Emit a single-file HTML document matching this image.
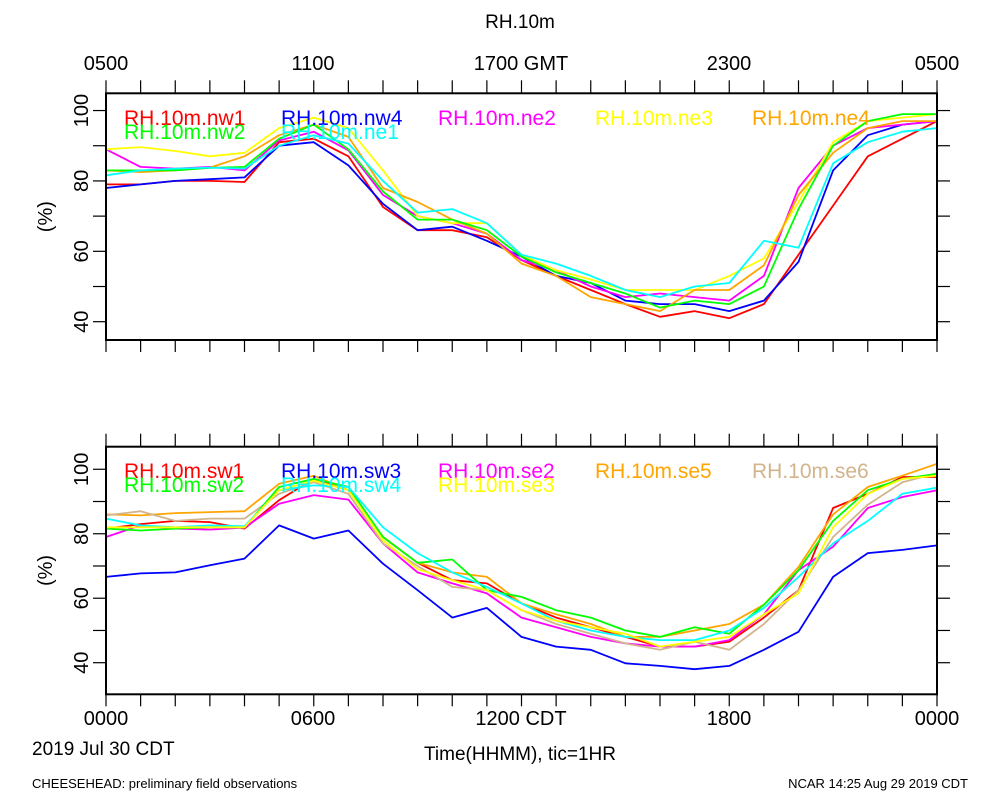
<!DOCTYPE html>
<html><head><meta charset="utf-8"><style>
body{margin:0;background:#fff;}
svg{display:block;font-family:"Liberation Sans",sans-serif;}
</style></head><body>
<svg id="chart" width="1000" height="800" viewBox="0 0 1000 800" xmlns="http://www.w3.org/2000/svg">
<text x="520" y="28" font-size="19" text-anchor="middle">RH.10m</text>
<g font-size="20" text-anchor="middle">
<text x="106" y="70">0500</text><text x="313" y="70">1100</text><text x="521" y="70">1700 GMT</text><text x="729" y="70">2300</text><text x="937" y="70">0500</text>
</g>
<g font-size="20" text-anchor="middle">
<text x="106" y="725">0000</text><text x="313" y="725">0600</text><text x="521" y="725">1200 CDT</text><text x="729" y="725">1800</text><text x="937" y="725">0000</text>
</g>
<text x="32" y="755" font-size="19">2019 Jul 30 CDT</text>
<text x="520" y="760" font-size="19" text-anchor="middle">Time(HHMM), tic=1HR</text>
<text x="32" y="788" font-size="13">CHEESEHEAD: preliminary field observations</text>
<text x="968" y="788" font-size="13" text-anchor="end">NCAR 14:25 Aug 29 2019 CDT</text>
<g id="plots"></g>
</svg>
<script>
const hours=[0,1,2,3,4,5,6,7,8,9,10,11,12,13,14,15,16,17,18,19,20,21,22,23,24];
const yTicks=[40,60,80,100];
const yMinor=[50,70,90];
const topNames=['RH.10m.nw1','RH.10m.nw4','RH.10m.ne2','RH.10m.ne3','RH.10m.ne4','RH.10m.nw2','RH.10m.ne1'];
const topColors=['#ff0000','#0000ff','#ff00ff','#ffff00','#ffa500','#00ff00','#00ffff'];
const nw1=[79,79,80,80,79.7,91,92,87,72.6,66,66,64,57.5,53,49,45,41.4,43,41,45,59,73,87,92,97];
const nw4=[78,79,80,80.5,81,90,91,84.4,73.5,66,67,63,58.5,53,51,46,45,45,43,46,57,83,93,96,97];
const ne2=[89,84,83.5,84,83,91.5,94,88.7,76,70,68,65,57.5,54.6,50,47,48,47,46,53,78,90,95,96,97];
const ne3=[89,89.6,88.5,87,88,95,98,95,83,70,68,68,59,54.6,52,49,49,49,53,58,74,91,97,98,99];
const ne4=[83,82.5,83,83.8,87,93,96,92.5,78,74,69,65,56.5,53,47,45,43,49,49,56,76,88,95,97,97];
const nw2=[83,83,83,83.7,84,92,96,89,77,69,69,66,58.5,54,51,48,44,46,45,50,72,90,97,99,99];
const ne1=[81.6,83,83.5,83.8,83.5,90,93,90.6,80,71,72,68,59,56.5,53,49,47,50,51,63,61,85,91,94,95];
const botNames=['RH.10m.sw1','RH.10m.sw3','RH.10m.se2','RH.10m.se5','RH.10m.se6','RH.10m.sw2','RH.10m.sw4','RH.10m.se3'];
const botColors=['#ff0000','#0000ff','#ff00ff','#ffa500','#d2b48c','#00ff00','#00ffff','#ffff00'];
const sw1=[81.6,83,84,83.6,81.6,90.4,97,93.5,79,71,65.6,64.6,58.4,54,51,48,45,45,46.5,54,62.5,88,92.4,97.6,97.6];
const sw3=[66.6,67.7,68,70.2,72.3,82.6,78.5,81,70.7,62.5,54,57,48,45,44,39.8,39,38,39,44,49.6,66.6,74,75,76.4];
const se2=[79,82.6,81.6,81.3,81.9,89.3,92,90.6,77,68,64.6,61.5,54,51,48,46,45,45,47,55,68.7,76,88,91.4,93.5];
const se5=[86,85.7,86.4,86.7,87,95.5,98,93.5,79,71,68,66.6,58.4,55,52,48,48,50,52,58,69.7,86,94.5,98,101.7];
const se6=[85.7,87,84,84.7,84.7,92.4,96,92.4,77,70,63.5,62.5,56.3,52,49,46,44,46.5,44,52,62.5,79,89,96,98.8];
const sw2=[81.6,81,81.6,82,82,94.5,97,94.5,79,71,72,62.5,60.4,56.3,54,50,48,51,49,58,68.7,84,93.5,97,98.6];
const sw4=[84.7,82.6,82,82.6,82.3,93.5,95,94.5,82,74,68,63.5,58.4,53,50,48,47,47,50,57,66.6,77,84,92.4,94.3];
const se3=[82,82,82,82,82,93.5,96.5,93.5,78,69,65.6,62.5,56.3,53,51,49,45,46.5,48,55,61.5,82,92.4,97,98];
const topSeries=[nw1,nw4,ne2,ne3,ne4,nw2,ne1];
const botSeries=[sw1,sw3,se2,se5,se6,sw2,sw4,se3];

const NS='http://www.w3.org/2000/svg';
const X0=106,X1=937;
function xScale(h){return X0+(X1-X0)*h/24;}
function mk(tag,attrs,parent){const e=document.createElementNS(NS,tag);for(const k in attrs)e.setAttribute(k,attrs[k]);parent.appendChild(e);return e;}
const root=document.getElementById('plots');

function panel(name,top,bottom,vmin,vmax,series,colors,names,legendY){
  const g=mk('g',{},root);
  
  
  const yS=v=>bottom-(v-vmin)/(vmax-vmin)*(bottom-top);
  series.forEach((s,i)=>{
    const pts=s.map((v,j)=>xScale(hours[j]).toFixed(1)+','+yS(v).toFixed(1)).join(' ');
    const p=mk('polyline',{points:pts,fill:'none',stroke:colors[i],'stroke-width':1.8,'stroke-linejoin':'round'},g);
    
    
  });
  const fr=mk('rect',{x:X0,y:top,width:X1-X0,height:bottom-top,fill:'none',stroke:'#000','stroke-width':2},g);
  
  
  for(let h=0;h<=24;h++){
    const x=xScale(h);
    mk('line',{x1:x,x2:x,y1:top-13,y2:top,stroke:'#000','stroke-width':1.2},g);
    mk('line',{x1:x,x2:x,y1:bottom,y2:bottom+12,stroke:'#000','stroke-width':1.2},g);
  }
  yTicks.concat(yMinor).forEach(v=>{
    const y=yS(v);
    mk('line',{x1:X0-13,x2:X0,y1:y,y2:y,stroke:'#000','stroke-width':1.2},g);
    mk('line',{x1:X1,x2:X1+13,y1:y,y2:y,stroke:'#000','stroke-width':1.2},g);
  });
  yTicks.forEach(v=>{
    const y=yS(v);
    const t=mk('text',{x:0,y:0,'font-size':20,'text-anchor':'middle',transform:`translate(88,${y}) rotate(-90)`},g);
    t.textContent=String(v);
    
    
  });
  const yt=mk('text',{x:0,y:0,'font-size':20,'text-anchor':'middle',transform:`translate(52,${(top+bottom)/2}) rotate(-90)`},g);
  yt.textContent='(%)';
  
  
  names.forEach((n,i)=>{
    const col=i<5?i:i-5, row=i<5?0:1;
    const t=mk('text',{x:124+col*157,y:legendY+row*14,'font-size':21,fill:colors[i]},g);
    t.textContent=n;
    
    
  });
}
panel('top-panel',93.3,340,34.8,104.9,topSeries,topColors,topNames,125);
panel('bottom-panel',446.7,694.3,30.2,107,botSeries,botColors,botNames,478);
</script>
</body></html>
